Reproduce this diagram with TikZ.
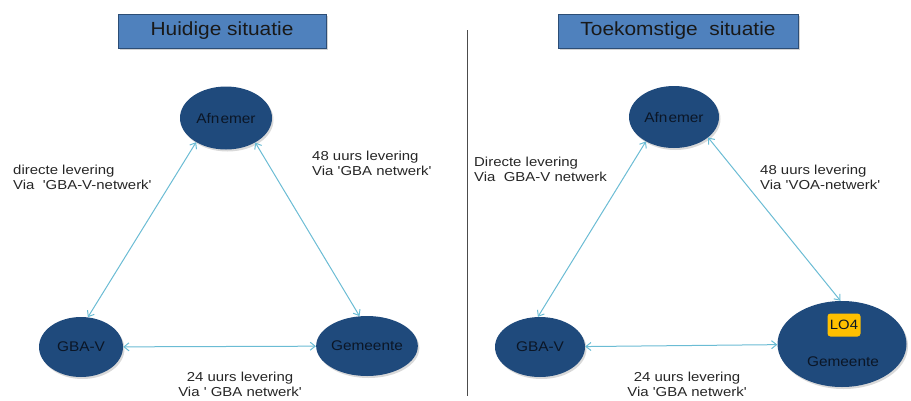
\documentclass[tikz,border=0pt]{standalone}
\usepackage{fontspec}
\setmainfont{Liberation Sans}
\newfontfamily\lblfont[FakeStretch=1.15]{Liberation Sans}
\newfontfamily\nodefont[FakeStretch=1.1]{Liberation Sans}
\newfontfamily\titlefont[FakeStretch=1.1]{Liberation Sans}
\usetikzlibrary{shapes.geometric,arrows.meta,shadows}
\definecolor{titlefill}{HTML}{4F81BD}
\definecolor{titledraw}{HTML}{2C4D75}
\definecolor{ellfill}{HTML}{1F4A7C}
\definecolor{arrowc}{HTML}{6BBCD4}
\definecolor{nodetext}{HTML}{0B1626}
\definecolor{lofill}{HTML}{FFC000}
\tikzset{
  titlebox/.style={draw=titledraw, line width=1pt, fill=titlefill, minimum height=34pt, inner sep=0pt,
    font=\titlefont\fontsize{19}{22}\selectfont, text=black!90,
    drop shadow={shadow xshift=2pt, shadow yshift=-2pt, opacity=0.35}},
  party/.style={ellipse, fill=ellfill, inner sep=0pt, text=nodetext,
    font=\nodefont\fontsize{14}{16}\selectfont,
    drop shadow={shadow xshift=1.5pt, shadow yshift=-2pt, opacity=0.3}},
  lbl/.style={align=left, font=\lblfont\fontsize{13}{15}\selectfont, text=black!85, inner sep=0pt},
  lblc/.style={align=center, font=\lblfont\fontsize{13}{15}\selectfont, text=black!85, inner sep=0pt},
  link/.style={draw=arrowc, line width=1pt, {Straight Barb[length=5pt,width=8pt]}-{Straight Barb[length=5pt,width=8pt]}}
}
\begin{document}
\begin{tikzpicture}[x=1pt,y=-1pt]
\useasboundingbox (0,0) rectangle (911,400);
% titles
\node[titlebox, minimum width=208pt] (t1) at (222,31) {Huidige situatie};
\node[titlebox, minimum width=240pt] (t2) at (678,31) {Toekomstige\ \ situatie};
% divider
\coordinate (d1) at (467,30);
\coordinate (d2) at (467,396);
\draw[black!70, line width=0.8pt] (d1) -- (d2);
% left
\node[party, minimum width=92pt, minimum height=63pt] (a1) at (226,118) {Afn\hspace{1pt}emer};
\node[party, minimum width=84pt, minimum height=60pt] (g1) at (81,347) {GBA-V};
\node[party, minimum width=90pt, minimum height=60pt] (m1) at (367,346) {Gemeente};
\draw[link] (a1.219) -- (g1.77);
\draw[link] (a1.320) -- (m1.104);
\draw[link] (g1) -- (m1);
\node[lbl, anchor=north west] (l1) at (13,165) {directe levering\\Via\ \ 'GBA-V-netwerk'};
\node[lbl, anchor=north west] (l2) at (312,151) {48 uurs levering\\Via 'GBA netwerk'};
\node[lblc, anchor=north] (l3) at (240,372) {24 uurs levering\\Via ' GBA netwerk'};
% right
\node[party, minimum width=90pt, minimum height=62pt] (a2) at (674,117) {Afn\hspace{1pt}emer};
\node[party, minimum width=90pt, minimum height=60pt] (g2) at (540,347) {GBA-V};
\node[party, minimum width=129pt, minimum height=86pt] (m2) at (842,344) {};
\node[fill=lofill, rounded corners=3pt, minimum width=33pt, minimum height=23pt, inner sep=0pt,
  font=\nodefont\fontsize{13.5}{16}\selectfont, text=nodetext] (lo) at (844,325) {LO4};
\node[font=\nodefont\fontsize{14}{16}\selectfont, text=nodetext, inner sep=0pt] (mt) at (843,362) {Gemeente};
\draw[link] (a2.221) -- (g2.94);
\draw[link] (a2.329) -- (m2.92);
\draw[link] (g2) -- (m2);
\node[lbl, anchor=north west] (r1) at (474,157) {Directe levering\\Via\ \ GBA-V netwerk};
\node[lbl, anchor=north west] (r2) at (760,165) {48 uurs levering\\Via 'VOA-netwerk'};
\node[lblc, anchor=north] (r3) at (687,372) {24 uurs levering\\Via 'GBA netwerk'};
\end{tikzpicture}
\end{document}
